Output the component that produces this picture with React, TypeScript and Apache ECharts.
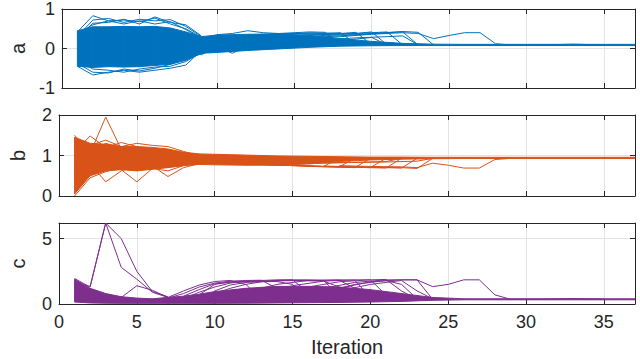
import React, { useEffect, useRef } from "react";
import * as echarts from "echarts";

// iterations at which the dense core envelope of each panel was read
const bandX = [1, 2, 3, 4, 5, 6, 7, 8, 9, 10, 12, 14, 16, 18, 20, 22, 24, 26, 37];

// panel a: dense core envelope
const aLo = [-0.45, -0.48, -0.46, -0.47, -0.46, -0.43, -0.4, -0.3, -0.12, -0.1, -0.05, -0.01, 0.03, 0.06, 0.07, 0.075, 0.075, 0.075, 0.075];
const aHi = [0.45, 0.55, 0.55, 0.56, 0.55, 0.56, 0.52, 0.42, 0.3, 0.34, 0.36, 0.37, 0.33, 0.25, 0.18, 0.13, 0.11, 0.105, 0.105];
// panel a: individual runs [iteration, value]
const aRuns = [
  [[1, 0.42], [2, 0.83], [3, 0.7], [4, 0.72], [5, 0.68], [6, 0.77], [7, 0.62], [8, 0.5], [9, 0.28]],
  [[1, 0.3], [2, 0.72], [3, 0.76], [4, 0.66], [5, 0.74], [6, 0.7], [7, 0.73], [8, 0.56], [9, 0.3]],
  [[1, 0.25], [2, 0.64], [3, 0.66], [4, 0.74], [5, 0.62], [6, 0.8], [7, 0.66], [8, 0.6], [9, 0.32]],
  [[1, 0.38], [2, 0.6], [3, 0.7], [4, 0.62], [5, 0.7], [6, 0.62], [7, 0.68], [8, 0.48], [9, 0.25]],
  [[1, -0.45], [2, -0.67], [3, -0.6], [4, -0.55], [5, -0.6], [6, -0.55], [7, -0.5], [8, -0.42], [9, -0.05]],
  [[1, -0.38], [2, -0.6], [3, -0.62], [4, -0.52], [5, -0.57], [6, -0.5], [7, -0.4], [8, -0.25], [9, -0.14], [10, 0.0]],
  [[1, -0.3], [2, -0.52], [3, -0.55], [4, -0.6], [5, -0.52], [6, -0.47], [7, -0.45], [8, -0.33], [9, -0.1]],
  [[8, 0.1], [9, -0.16], [10, 0.05], [11, -0.12], [12, 0.06]],
  [[9, 0.2], [10, 0.35], [11, 0.38], [12, 0.45], [13, 0.4], [14, 0.38], [15, 0.4], [16, 0.42], [17, 0.41], [18, 0.1]],
  [[12, 0.34], [14, 0.38], [16, 0.36], [17, 0.38], [18, 0.4], [19, 0.1]],
  [[12, 0.3], [14, 0.35], [16, 0.4], [18, 0.38], [19, 0.41], [20, 0.09]],
  [[13, 0.32], [15, 0.38], [17, 0.37], [19, 0.38], [20, 0.42], [21, 0.09]],
  [[14, 0.3], [16, 0.35], [18, 0.36], [20, 0.4], [21, 0.42], [22, 0.09]],
  [[15, 0.3], [17, 0.33], [19, 0.35], [21, 0.4], [22, 0.42], [23, 0.09]],
  [[16, 0.28], [18, 0.32], [20, 0.38], [22, 0.43], [23, 0.41], [24, 0.09]],
  [[16, 0.25], [18, 0.3], [20, 0.36], [22, 0.4], [23, 0.38], [24, 0.25], [25, 0.33], [26, 0.4], [27, 0.4], [28, 0.12], [29, 0.09]],
  [[17, 0.22], [19, 0.27], [21, 0.3], [22, 0.32], [23, 0.09]],
  [[18, 0.2], [19, 0.24], [20, 0.28], [21, 0.09]],
  [[29, 0.09], [31, 0.09], [33, 0.11], [35, 0.09]],
];

// panel b
const bLo = [0.05, 0.5, 0.62, 0.65, 0.62, 0.66, 0.7, 0.75, 0.78, 0.77, 0.76, 0.76, 0.79, 0.85, 0.89, 0.91, 0.92, 0.925, 0.925];
const bHi = [1.45, 1.3, 1.28, 1.22, 1.22, 1.2, 1.16, 1.08, 1.04, 1.03, 1.01, 0.99, 0.98, 0.97, 0.96, 0.96, 0.955, 0.955, 0.955];
const bRuns = [
  [[1, 0.95], [2, 1.05], [3, 1.95], [4, 1.15], [5, 1.0], [6, 1.05]],
  [[1, 0.6], [2, 0.8], [3, 0.35], [4, 0.62], [5, 0.75], [6, 0.8]],
  [[2, 0.9], [3, 0.72], [4, 0.65], [5, 0.35], [6, 0.68], [7, 0.62], [8, 0.75]],
  [[4, 0.8], [5, 0.66], [6, 0.74], [7, 0.48], [8, 0.7], [9, 0.8]],
  [[1, 1.5], [2, 1.1], [3, 1.3], [4, 1.2]],
  [[1, 1.1], [2, 1.48], [3, 1.2], [4, 1.32], [5, 1.22]],
  [[2, 1.25], [3, 1.38], [4, 1.22], [5, 1.3], [6, 1.25], [7, 1.22], [8, 1.1], [9, 1.0]],
  [[1, 0.0], [2, 0.45], [3, 0.6], [4, 0.7]],
  [[12, 0.8], [14, 0.76], [16, 0.74], [17, 0.73], [18, 0.93]],
  [[13, 0.78], [15, 0.75], [17, 0.72], [18, 0.72], [19, 0.93]],
  [[14, 0.77], [16, 0.74], [18, 0.71], [19, 0.7], [20, 0.93]],
  [[15, 0.76], [17, 0.73], [19, 0.71], [20, 0.7], [21, 0.93]],
  [[16, 0.74], [18, 0.72], [20, 0.7], [21, 0.69], [22, 0.93]],
  [[17, 0.74], [19, 0.72], [21, 0.7], [22, 0.69], [23, 0.93]],
  [[18, 0.73], [20, 0.71], [22, 0.7], [23, 0.68], [24, 0.93]],
  [[18, 0.75], [20, 0.73], [22, 0.72], [23, 0.7], [24, 0.81], [25, 0.76], [26, 0.69], [27, 0.69], [28, 0.9], [29, 0.93]],
  [[16, 0.8], [18, 0.82], [20, 0.84], [21, 0.85], [22, 0.93]],
  [[17, 0.82], [19, 0.83], [21, 0.84], [23, 0.86], [24, 0.93]],
];

// panel c
const cLo = [0.15, 0.08, 0.06, 0.05, 0.05, 0.05, 0.05, 0.05, 0.05, 0.05, 0.06, 0.08, 0.1, 0.12, 0.15, 0.2, 0.28, 0.32, 0.32];
const cHi = [1.9, 1.2, 0.8, 0.56, 0.45, 0.4, 0.5, 0.6, 0.75, 0.95, 1.2, 1.35, 1.35, 1.3, 1.1, 0.8, 0.5, 0.4, 0.4];
const cRuns = [
  [[1, 1.95], [2, 1.3], [3, 6.2], [4, 5.0], [5, 2.5], [6, 0.95], [7, 0.55]],
  [[1, 1.6], [2, 1.35], [3, 6.2], [4, 2.8], [5, 1.9], [6, 0.9], [7, 0.5]],
  [[3, 0.7], [4, 0.5], [5, 1.4], [6, 1.05], [7, 0.5]],
  [[6, 0.3], [7, 0.5], [8, 1.0], [9, 1.45], [10, 1.72], [11, 1.8], [12, 1.5], [13, 0.4]],
  [[7, 0.45], [8, 0.8], [9, 1.3], [10, 1.6], [11, 1.75], [12, 1.8], [13, 1.82], [14, 1.2], [15, 0.38]],
  [[8, 0.4], [9, 0.9], [10, 1.3], [11, 1.6], [12, 1.75], [13, 1.8], [14, 1.85], [15, 1.85], [16, 0.9], [17, 0.36]],
  [[9, 0.4], [10, 0.8], [11, 1.2], [12, 1.5], [13, 1.7], [14, 1.8], [15, 1.85], [16, 1.85], [17, 1.8], [18, 0.6], [19, 0.36]],
  [[10, 0.3], [12, 0.9], [14, 1.5], [16, 1.8], [18, 1.85], [19, 1.82], [20, 0.5], [21, 0.36]],
  [[11, 0.3], [13, 0.8], [15, 1.4], [17, 1.75], [19, 1.85], [20, 1.85], [21, 0.7], [22, 0.36]],
  [[12, 0.25], [14, 0.7], [16, 1.3], [18, 1.7], [20, 1.85], [21, 1.88], [22, 1.0], [23, 0.36]],
  [[13, 0.25], [15, 0.6], [17, 1.2], [19, 1.65], [21, 1.85], [22, 1.85], [23, 1.85], [24, 0.36]],
  [[14, 0.2], [16, 0.6], [18, 1.2], [20, 1.7], [22, 1.85], [23, 1.85], [24, 1.33], [25, 1.5], [26, 1.85], [27, 1.85], [28, 0.7], [29, 0.36]],
  [[15, 0.3], [17, 0.9], [19, 1.5], [21, 1.8], [22, 1.5], [23, 0.4]],
  [[9, 0.7], [10, 1.5], [11, 1.7], [13, 1.75], [15, 1.8], [17, 1.75], [18, 1.3], [19, 0.4]],
  [[8, 0.6], [9, 1.1], [10, 1.55], [11, 1.65], [12, 1.7], [14, 1.72], [15, 1.5], [16, 0.5]],
  [[10, 1.0], [11, 1.45], [12, 1.65], [14, 1.78], [16, 1.8], [18, 1.82], [19, 1.2], [20, 0.4]],
  [[16, 0.4], [18, 1.0], [20, 1.5], [22, 1.8], [23, 1.0], [24, 0.4]],
  [[29, 0.36], [31, 0.36], [33, 0.42], [35, 0.36]],
];

const FONT = '"Liberation Sans", Arial, Helvetica, sans-serif';
const AX = "#262626";
const GRID = "#e3e3e3";

const panels = [
  { top: 7, name: "a", min: -1, max: 1, interval: 1, lo: aLo, hi: aHi, runs: aRuns, color: "#0072BD" },
  { top: 115, name: "b", min: 0, max: 2, interval: 1, lo: bLo, hi: bHi, runs: bRuns, color: "#D95319" },
  { top: 223, name: "c", min: 0, max: 6.2, interval: 5, lo: cLo, hi: cHi, runs: cRuns, color: "#7E2F8E" },
];

export default function App() {
  const ref = useRef<HTMLDivElement>(null);
  useEffect(() => {
    if (!ref.current) return;
    const chart = echarts.init(ref.current, undefined, { renderer: "svg" });
    const grids: any[] = [];
    const xAxes: any[] = [];
    const yAxes: any[] = [];
    const series: any[] = [];
    const line = { show: true, onZero: false, lineStyle: { color: AX, width: 1 } };
    const tick = { show: true, inside: true, length: 5, lineStyle: { color: AX } };
    panels.forEach((p, i) => {
      const last = i === panels.length - 1;
      grids.push({ left: 44, top: p.top, width: 591, height: 81, containLabel: false });
      xAxes.push({
        gridIndex: i, type: "value", position: "bottom", min: 0, max: 37, interval: 5,
        axisLine: line, axisTick: tick,
        axisLabel: { show: last, fontSize: 18, color: AX, margin: 9, fontFamily: FONT, showMaxLabel: false },
        splitLine: { show: true, lineStyle: { color: GRID, width: 1 } },
        name: last ? "Iteration" : "", nameLocation: "middle", nameGap: 33,
        nameTextStyle: { fontSize: 20, color: AX, fontFamily: FONT },
      });
      xAxes.push({
        gridIndex: i, type: "value", position: "top", min: 0, max: 37, interval: 5,
        axisLine: line, axisTick: tick, axisLabel: { show: false }, splitLine: { show: false },
      });
      yAxes.push({
        gridIndex: i, type: "value", position: "left", min: p.min, max: p.max, interval: p.interval,
        axisLine: line, axisTick: tick,
        axisLabel: { show: true, fontSize: 18, color: AX, margin: 7, fontFamily: FONT, showMaxLabel: p.name !== "c" },
        splitLine: { show: true, lineStyle: { color: GRID, width: 1 } },
        name: p.name, nameLocation: "middle", nameGap: 31, nameRotate: 90,
        nameTextStyle: { fontSize: 20, color: AX, fontFamily: FONT },
      });
      yAxes.push({
        gridIndex: i, type: "value", position: "right", min: p.min, max: p.max, interval: p.interval,
        axisLine: line, axisTick: tick, axisLabel: { show: false }, splitLine: { show: false },
      });
      const lo = p.lo, hi = p.hi, color = p.color;
      series.push({
        type: "custom", xAxisIndex: 2 * i, yAxisIndex: 2 * i, silent: true, z: 2,
        data: bandX.map((x, j) => [x, lo[j], hi[j]]),
        renderItem: (params: any, api: any) => {
          const j = params.dataIndex;
          if (j >= bandX.length - 1) return { type: "group", children: [] };
          const pts = [
            api.coord([bandX[j], lo[j]]),
            api.coord([bandX[j + 1], lo[j + 1]]),
            api.coord([bandX[j + 1], hi[j + 1]]),
            api.coord([bandX[j], hi[j]]),
          ];
          return { type: "polygon", shape: { points: pts }, style: { fill: color, stroke: color, lineWidth: 1 } };
        },
      });
      p.runs.forEach((run) => {
        series.push({
          type: "line", xAxisIndex: 2 * i, yAxisIndex: 2 * i, data: run,
          showSymbol: false, symbol: "none", silent: true, z: 3,
          lineStyle: { color, width: 1 },
        });
      });
    });
    chart.setOption({
      animation: false,
      backgroundColor: "#ffffff",
      grid: grids, xAxis: xAxes, yAxis: yAxes, series,
    });
    return () => chart.dispose();
  }, []);
  return <div ref={ref} style={{ position: "fixed", left: 0, top: 0, width: 640, height: 359, background: "#fff" }} />;
}
